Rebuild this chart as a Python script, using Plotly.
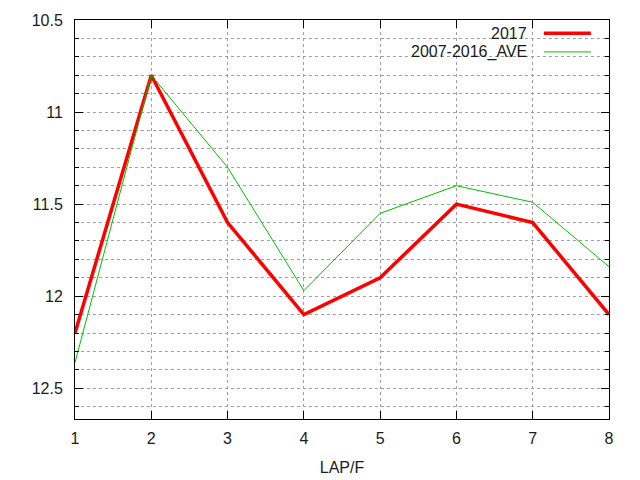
import plotly.graph_objects as go

# lap number along the x axis
laps = [1, 2, 3, 4, 5, 6, 7, 8]

# lap times
times_2017 = [12.2, 10.8, 11.6, 12.1, 11.9, 11.5, 11.6, 12.1]
times_ave = [12.36, 10.8, 11.3, 11.97, 11.55, 11.4, 11.49, 11.84]

series_names = ["2017", "2007-2016_AVE"]
series_colors = ["#ff0000", "#00c000"]
series_widths = [3.5, 1]

font = dict(family="Liberation Sans, Arial, sans-serif", size=16, color="#1a1a1a")
grid_color = "#a0a0a0"

fig = go.Figure()

for name, ys, color, width in zip(
    series_names, [times_2017, times_ave], series_colors, series_widths
):
    fig.add_trace(
        go.Scatter(
            x=laps,
            y=ys,
            mode="lines",
            name=name,
            line=dict(color=color, width=width),
            showlegend=False,
        )
    )

# gnuplot style key: text on the left, line sample on the right
key_rows = [0.967, 0.920]
for name, color, width, ky in zip(series_names, series_colors, series_widths, key_rows):
    fig.add_annotation(
        text=name,
        xref="paper",
        yref="paper",
        x=0.850,
        y=ky,
        xanchor="right",
        yanchor="middle",
        showarrow=False,
        font=font,
    )
    fig.add_shape(
        type="line",
        xref="paper",
        yref="paper",
        x0=0.878,
        x1=0.966,
        y0=ky,
        y1=ky,
        line=dict(color=color, width=width),
    )

# the page body adds an 8px offset, so the margins are shifted to compensate
fig.update_layout(
    width=640,
    height=480,
    margin=dict(l=67, r=39, t=12, b=69, autoexpand=False),
    paper_bgcolor="white",
    plot_bgcolor="white",
    font=font,
    showlegend=False,
)

fig.update_xaxes(
    range=[1, 8],
    dtick=1,
    tick0=1,
    ticks="inside",
    ticklen=8,
    tickcolor="black",
    showline=True,
    linecolor="black",
    linewidth=1,
    mirror="allticks",
    showgrid=True,
    gridcolor=grid_color,
    griddash="dot",
    gridwidth=1,
    zeroline=False,
    automargin=False,
    ticklabelstandoff=5,
    title=dict(text="LAP/F", font=font, standoff=15),
)

fig.update_yaxes(
    range=[12.667, 10.5],
    tick0=10.5,
    dtick=0.5,
    ticks="inside",
    ticklen=8,
    tickcolor="black",
    showline=True,
    linecolor="black",
    linewidth=1,
    mirror="allticks",
    showgrid=True,
    gridcolor=grid_color,
    griddash="dot",
    gridwidth=1,
    zeroline=False,
    automargin=False,
    ticklabelstandoff=8,
    minor=dict(
        dtick=0.1,
        tick0=10.5,
        ticks="inside",
        ticklen=4,
        tickcolor="black",
        showgrid=True,
        gridcolor=grid_color,
        griddash="dot",
        gridwidth=1,
    ),
)

fig.write_html("out.html")
